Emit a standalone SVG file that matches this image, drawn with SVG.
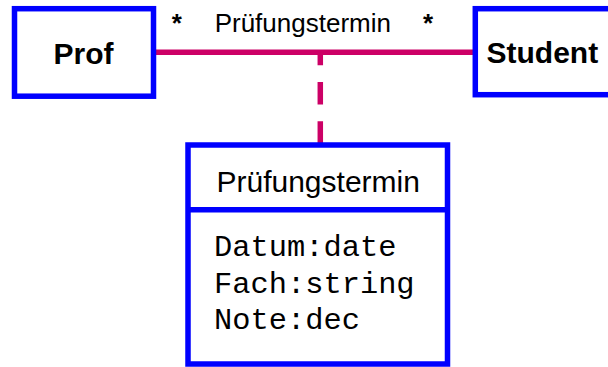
<svg xmlns="http://www.w3.org/2000/svg" width="608" height="367" viewBox="0 0 608 367">
<style>
.box{fill:#fff;stroke:#0000ff;stroke-width:5.5}
.assoc{fill:none;stroke:#cc0066;stroke-width:5.5}
.bold{font-family:"Liberation Sans",Arial,sans-serif;font-weight:bold;font-size:30px;fill:#000}
.sans{font-family:"Liberation Sans",Arial,sans-serif;fill:#000}
.mono{font-family:"Liberation Mono","Courier New",monospace;font-size:30.4px;fill:#000}
</style>
<rect width="608" height="367" fill="#fff"/>
<g id="connectors">
<line class="assoc" x1="156" y1="52.2" x2="473" y2="52.2"/>
<line class="assoc" x1="320.3" y1="143.5" x2="320.3" y2="52.2" stroke-dasharray="22.3 16.8"/>
<text class="sans" x="302.8" y="32.3" font-size="26" text-anchor="middle">Prüfungstermin</text>
<text class="sans" x="176.7" y="32.3" font-size="26" font-weight="bold" text-anchor="middle">*</text>
<text class="sans" x="428" y="32.3" font-size="26" font-weight="bold" text-anchor="middle">*</text>
</g>
<g id="prof">
<rect class="box" x="14.5" y="8.7" width="139" height="87.5"/>
<text class="bold" x="83.5" y="64.3" text-anchor="middle">Prof</text>
</g>
<g id="student">
<rect class="box" x="475.3" y="8.7" width="160" height="86"/>
<text class="bold" x="486.5" y="63.3">Student</text>
</g>
<g id="pruefungstermin">
<rect class="box" x="188" y="145" width="259.5" height="219"/>
<line class="box" x1="188" y1="209.7" x2="447.5" y2="209.7"/>
<text class="sans" x="318.2" y="191.7" font-size="30" text-anchor="middle">Prüfungstermin</text>
<text class="mono" x="214" y="256">Datum:date</text>
<text class="mono" x="214" y="292.7">Fach:string</text>
<text class="mono" x="214" y="329">Note:dec</text>
</g>
</svg>
